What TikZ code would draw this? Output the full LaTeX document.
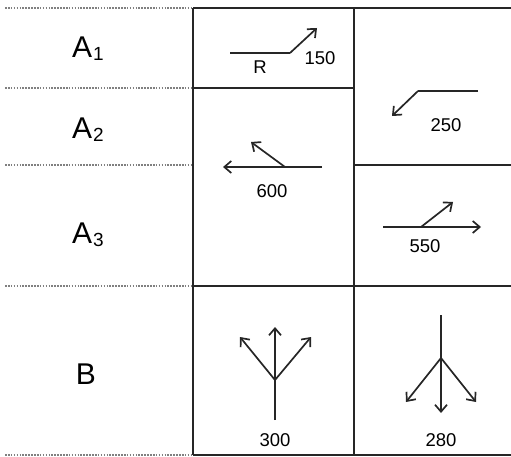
\documentclass[tikz,border=0pt]{standalone}
\usepackage{fontspec}
\setmainfont{Liberation Sans}
\usetikzlibrary{arrows.meta}
\begin{document}
\begin{tikzpicture}[x=1pt,y=-1pt,line width=1.6pt,
	rule/.style={line width=1.5pt,black!85},
	guide/.style={line width=1.5pt,black!50,dash pattern=on 1.6pt off 1.3pt},
	force/.style={line width=1.7pt,black!85,-{Straight Barb[length=7pt,width=12pt,line width=1.7pt]}},
	row/.style={anchor=base,font=\fontsize{30}{30}\selectfont},
	val/.style={anchor=base,font=\fontsize{18.5}{18.5}\selectfont}]
	\newcommand{\lowidx}[1]{\hspace{1pt}\raisebox{-3pt}{\fontsize{19}{19}\selectfont #1}}
	\useasboundingbox (0,0) rectangle (511,457);
	
	% table
	\coordinate (NW) at (193,8);   \coordinate (NM) at (354,8);   \coordinate (NE) at (511,8);
	\coordinate (SW) at (193,455); \coordinate (SM) at (354,455); \coordinate (SE) at (511,455);
	\coordinate (W1) at (193,88);  \coordinate (M1) at (354,88);
	\coordinate (M2) at (354,165); \coordinate (E2) at (511,165);
	\coordinate (W3) at (193,286); \coordinate (E3) at (511,286);
	\draw[rule] (NW)--(NE) (NW)--(SW) (NM)--(SM) (SW)--(SE)
		(W1)--(M1) (M2)--(E2) (W3)--(E3);
	\draw[guide] (5,8)--(NW) (5,88)--(W1) (5,165)--(193,165) (5,286)--(W3) (5,455)--(SW);
	
	% rows
	\node[row] (rA1) at (88,58)  {A\lowidx{1}};
	\node[row] (rA2) at (88,139) {A\lowidx{2}};
	\node[row] (rA3) at (88,243) {A\lowidx{3}};
	\node[row] (rB)  at (86,384) {B};
	
	% A1 : 150
	\coordinate (a1s) at (230,53); \coordinate (a1k) at (290,53); \coordinate (a1e) at (317,28);
	\draw[rule,line width=1.7pt] (a1s)--(a1k);
	\draw[force] (a1k)--(a1e);
	\node[val] (vR)   at (260,74) {R};
	\node[val] (v150) at (320,65) {150};
	
	% A1-A2 : 250
	\coordinate (b1s) at (478,91); \coordinate (b1k) at (418,91); \coordinate (b1e) at (392,116);
	\draw[rule,line width=1.7pt] (b1s)--(b1k);
	\draw[force] (b1k)--(b1e);
	\node[val] (v250) at (446,132) {250};
	
	% A2-A3 : 600
	\coordinate (c1s) at (322,167); \coordinate (c1e) at (223,167);
	\coordinate (c1k) at (285,167); \coordinate (c1b) at (251,142);
	\draw[force] (c1s)--(c1e);
	\draw[force] (c1k)--(c1b);
	\node[val] (v600) at (272,197) {600};
	
	% A3 : 550
	\coordinate (d1s) at (383,227); \coordinate (d1e) at (481,227);
	\coordinate (d1k) at (421,227); \coordinate (d1b) at (453,202);
	\draw[force] (d1s)--(d1e);
	\draw[force] (d1k)--(d1b);
	\node[val] (v550) at (425,252) {550};
	
	% B : 300
	\coordinate (e1s) at (275,420); \coordinate (e1k) at (275,380);
	\draw[rule,line width=1.7pt] (e1s)--(e1k);
	\draw[force] (e1k)--(275,327);
	\draw[force] (e1k)--(240,337);
	\draw[force] (e1k)--(311,337);
	\node[val] (v300) at (275,446) {300};
	
	% B : 280
	\coordinate (f1s) at (441,315); \coordinate (f1k) at (441,358);
	\draw[rule,line width=1.7pt] (f1s)--(f1k);
	\draw[force] (f1k)--(441,413);
	\draw[force] (f1k)--(406,402);
	\draw[force] (f1k)--(476,402);
	\node[val] (v280) at (441,446) {280};
\end{tikzpicture}
\end{document}
